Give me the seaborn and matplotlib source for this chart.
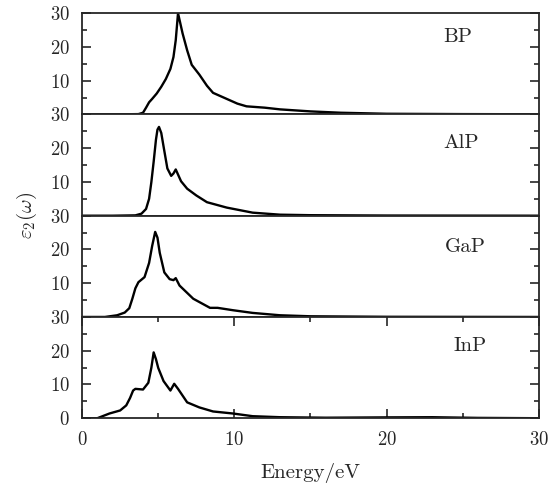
import seaborn as sns
import matplotlib.pyplot as plt
import pandas as pd

# 材料名
materials = ['BP', 'AlP', 'GaP', 'InP']

# epsilon_2 spectra
energy_bp = [0, 2, 3.7, 4.0, 4.2, 4.4, 4.6, 4.9, 5.2, 5.5, 5.8, 6.0, 6.15, 6.3,
             6.45, 6.6, 6.9, 7.2, 7.7, 8.2, 8.6, 9.5, 10.2, 10.8, 12, 13, 15,
             17, 20, 25, 30]
eps_bp = [0, 0, 0.1, 0.5, 2.0, 3.6, 4.6, 6.2, 8.2, 10.5, 13.5, 17, 22, 30,
          27, 24, 19, 14.7, 11.8, 8.5, 6.4, 4.6, 3.2, 2.4, 2.0, 1.5, 0.9,
          0.5, 0.2, 0.1, 0.05]

energy_alp = [0, 2, 3.5, 3.9, 4.2, 4.4, 4.55, 4.7, 4.85, 4.95, 5.05, 5.2,
              5.35, 5.6, 5.85, 6.0, 6.15, 6.3, 6.5, 6.9, 7.5, 8.2, 9.5, 11.2,
              13, 15, 20, 30]
eps_alp = [0, 0, 0.1, 0.6, 2, 5, 10, 16, 22.5, 25.5, 26.3, 24.5, 20.5, 14,
           11.8, 12.5, 13.7, 12.2, 10.2, 8, 6, 4, 2.4, 0.9, 0.3, 0.15, 0.05, 0]

energy_gap = [0, 1.5, 2.3, 2.8, 3.1, 3.3, 3.5, 3.7, 4.1, 4.4, 4.6, 4.8, 4.95,
              5.1, 5.4, 5.75, 6.0, 6.15, 6.4, 7.3, 8.4, 8.9, 9.9, 11.2, 13, 15,
              20, 30]
eps_gap = [0, 0, 0.5, 1.3, 2.6, 5.4, 8.5, 10.3, 11.8, 16, 21, 25.2, 23.5,
           19, 13.2, 11.2, 10.9, 11.5, 9.3, 5.4, 2.7, 2.7, 2, 1.2, 0.5, 0.2,
           0.05, 0]

energy_inp = [0, 1.0, 1.8, 2.5, 2.9, 3.15, 3.35, 3.5, 4.0, 4.35, 4.55, 4.7,
              4.85, 5.0, 5.35, 5.8, 6.05, 6.3, 6.9, 7.7, 8.6, 9.9, 11.2, 13,
              16, 20, 23, 26, 30]
eps_inp = [0, 0, 1.4, 2.3, 3.8, 6.0, 8.2, 8.7, 8.5, 10.5, 15, 19.5, 17.5,
           14.9, 11, 8.2, 10.2, 8.7, 4.7, 3.2, 2, 1.4, 0.6, 0.3, 0.15, 0.25,
           0.3, 0.1, 0]

energies = [energy_bp, energy_alp, energy_gap, energy_inp]
spectra = [eps_bp, eps_alp, eps_gap, eps_inp]

# label positions (axes fraction, left / baseline)
label_pos = [(0.790, 0.716), (0.790, 0.673), (0.794, 0.637), (0.812, 0.660)]

sns.set_theme(style='ticks')
plt.rcParams['font.family'] = 'serif'
plt.rcParams['font.serif'] = ['cmr10']
plt.rcParams['mathtext.fontset'] = 'cm'
plt.rcParams['axes.formatter.use_mathtext'] = True

fig, axes = plt.subplots(4, 1, sharex=True, figsize=(5.51, 4.88), dpi=100)
fig.subplots_adjust(left=0.149, right=0.978, top=0.973, bottom=0.143, hspace=0)

for i, ax in enumerate(axes):
    df = pd.DataFrame({'E': energies[i], 'eps': spectra[i]})
    sns.lineplot(data=df, x='E', y='eps', color='black', lw=1.7, ax=ax)
    ax.set_xlim(0, 30)
    ax.set_ylim(0, 30)
    ax.set_xlabel('')
    ax.set_ylabel('')
    if i < 3:
        ax.set_yticks([10, 20, 30])
    else:
        ax.set_yticks([0, 10, 20, 30])
    ax.set_yticks([5, 15, 25], minor=True)
    ax.set_xticks([0, 10, 20, 30])
    ax.set_xticks([5, 15, 25], minor=True)
    ax.tick_params(axis='y', which='both', direction='in', left=True, right=True,
                   labelsize=13.5, pad=9)
    ax.tick_params(axis='y', which='major', length=6.5, width=1.2)
    ax.tick_params(axis='y', which='minor', length=3.5, width=1.2)
    if i < 3:
        ax.tick_params(axis='x', which='both', bottom=False, top=False,
                       labelbottom=False)
    else:
        ax.tick_params(axis='x', which='both', direction='in', bottom=True, top=True,
                       labelsize=13.5, pad=9)
        ax.tick_params(axis='x', which='major', length=6.5, width=1.2)
        ax.tick_params(axis='x', which='minor', length=3.5, width=1.2)
    for s in ax.spines.values():
        s.set_linewidth(1.3)
    ax.text(label_pos[i][0], label_pos[i][1], materials[i], transform=ax.transAxes,
            ha='left', va='baseline', fontsize=15)

axes[-1].set_xlabel('Energy/eV', fontsize=15, labelpad=10)
fig.text(0.048, 0.559, r'$\varepsilon_2(\omega)$', rotation=90,
         ha='center', va='center', fontsize=15)

plt.savefig('out.png', dpi=100)
